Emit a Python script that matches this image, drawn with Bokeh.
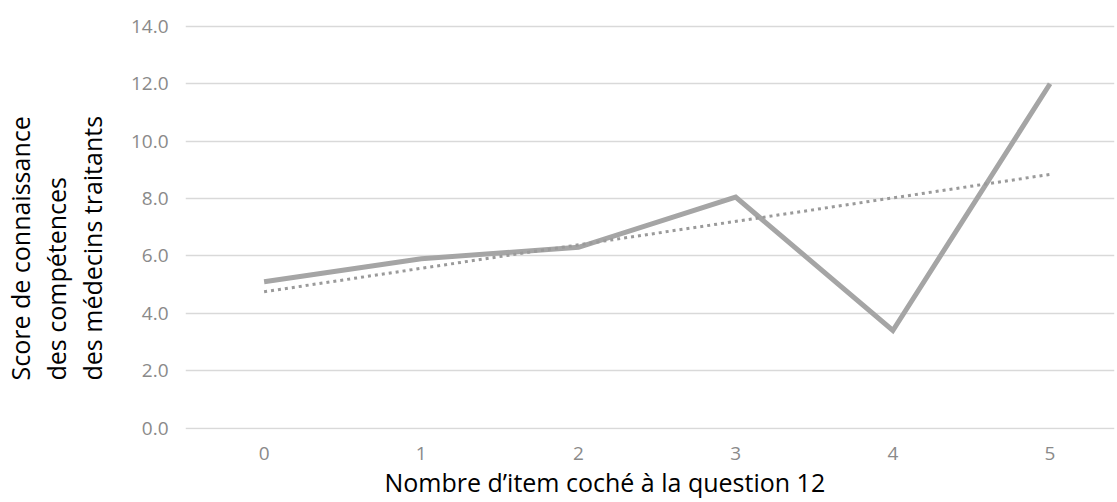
from bokeh.plotting import figure
from bokeh.models import Range1d, FixedTicker, Title, ColumnDataSource
from bokeh.embed import file_html
from bokeh.resources import INLINE

# Data
items = [0, 1, 2, 3, 4, 5]
item_labels = ["0", "1", "2", "3", "4", "5"]
scores = [5.1, 5.9, 6.3, 8.05, 3.4, 12.0]
trend_x = [0, 5]
trend_y = [4.75, 8.84]
y_ticks = [0, 2, 4, 6, 8, 10, 12, 14]
x_title = "Nombre d\u2019item coché à la question 12"
y_title_lines = ["Score de connaissance", "des compétences", "des médecins traitants"]

FONT = "Open Sans"
TITLE_SIZE = "25px"

p = figure(width=1115, height=502, output_backend="svg", toolbar_location=None,
           x_range=Range1d(-0.5, 5.41), y_range=Range1d(-0.05, 14.31),
           min_border_left=184, min_border_right=1, min_border_top=17, min_border_bottom=73)
p.outline_line_color = None
p.background_fill_color = "white"
p.border_fill_color = "white"

# grid
p.xgrid.grid_line_color = None
p.ygrid.grid_line_color = "#d9d9d9"
p.ygrid.grid_line_width = 1.5

# axes
p.xaxis.ticker = FixedTicker(ticks=items)
p.xaxis.major_label_overrides = {i: l for i, l in zip(items, item_labels)}
p.yaxis.ticker = FixedTicker(ticks=y_ticks)
p.yaxis.major_label_overrides = {t: f"{t:.1f}" for t in y_ticks}
for ax in (p.xaxis, p.yaxis):
    ax.axis_line_color = None
    ax.major_tick_line_color = None
    ax.minor_tick_line_color = None
    ax.major_label_text_font = FONT
    ax.major_label_text_font_size = "19px"
    ax.major_label_text_color = "#8a8a8a"
p.xaxis.major_label_standoff = 11
p.yaxis.major_label_standoff = 11

src = ColumnDataSource(dict(x=items, y=scores))
p.line("x", "y", source=src, line_color="#a5a5a5", line_width=5, line_join="miter")
p.line(trend_x, trend_y, line_color="#9a9a9a", line_width=3, line_dash="3 4")

# x title
p.add_layout(Title(text=x_title, align="left", offset=199, standoff=0,
                   text_font=FONT, text_font_size=TITLE_SIZE, text_color="black",
                   text_font_style="normal"), "below")

# y title: spacer then three lines, nearest to the axis first
p.add_layout(Title(text=" ", standoff=16, text_font_size="1px"), "left")
for line in reversed(y_title_lines):
    p.add_layout(Title(text=line, align="left", offset=49, standoff=0,
                       text_font=FONT, text_font_size=TITLE_SIZE, text_color="black",
                       text_font_style="normal"), "left")

open("out.html", "w").write(file_html(p, INLINE))
